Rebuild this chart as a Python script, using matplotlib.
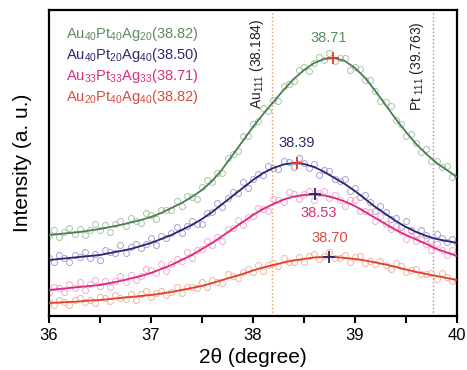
import numpy as np
import matplotlib
matplotlib.use('Agg')
import matplotlib.pyplot as plt
from matplotlib.ticker import MultipleLocator

plt.rcParams['font.family'] = ['Liberation Sans', 'DejaVu Sans']
plt.rcParams['mathtext.fontset'] = 'custom'
plt.rcParams['mathtext.rm'] = 'Liberation Sans'
plt.rcParams['mathtext.default'] = 'rm'

# fitted curves, sampled every 0.1 degree
x_fit = np.round(np.arange(36.0, 40.01, 0.1), 2)
green_fit = [81, 82, 83, 84, 85.5, 87, 89, 91, 93.5, 96, 99, 103, 108, 113, 119, 126, 135, 147, 161, 175, 189,
             202, 214, 226, 237, 246, 253, 257, 258, 255, 248, 238, 225, 211, 197, 184, 172, 162, 153, 146, 139]
blue_fit = [56, 57, 58, 59, 60, 61, 63, 65, 67, 70, 73, 77, 81, 86, 91, 97, 104, 112, 120, 128, 136,
            143, 148, 151.5, 153, 152, 149, 144, 138, 132, 125, 117, 109, 102, 95, 89, 84, 80, 77, 75, 73]
pink_fit = [26, 27, 28, 29, 30, 31, 33, 35, 37.5, 40, 43, 47, 51, 56, 61, 67, 73, 80, 87, 94, 101,
            107, 112, 116.5, 119.5, 121, 121.5, 120.5, 118, 114.5, 110, 104, 98, 92, 86, 81, 76.5, 72, 67, 63.5, 60]
red_fit = [13, 13.5, 14, 14.5, 15.5, 16, 17, 18, 19, 20, 21, 22.5, 24, 26, 28, 30, 33, 36, 39, 42, 45.5,
           48.5, 51, 53.5, 55.5, 57, 58.5, 59, 59, 58, 57, 55.5, 53.5, 51.5, 49, 46.5, 44, 42, 40, 38, 36]

# measured points, every 0.05 degree
x_pts = np.round(np.arange(36.0, 40.001, 0.05), 2)
green_pts = [81, 86, 79, 84, 88, 82, 87, 81, 86, 92, 86, 91, 84, 92, 95, 90, 98, 95, 93, 103,
             101, 97, 106, 106, 106, 115, 110, 120, 119, 117, 129, 136, 134, 143, 143, 158, 162, 165, 180, 180,
             192, 195, 208, 205, 216, 215, 230, 232, 235, 246, 249, 245, 253, 259, 256, 263, 255, 258, 258, 246,
             249, 247, 236, 236, 225, 215, 214, 210, 196, 192, 180, 182, 173, 164, 167, 155, 155, 149, 150, 139, 140]
blue_pts = [58, 54, 61, 58, 54, 61, 59, 64, 58, 62, 56, 66, 64, 63, 71, 63, 69, 72, 68, 72,
            78, 71, 80, 78, 83, 89, 83, 90, 95, 92, 92, 103, 104, 113, 109, 118, 124, 123, 134, 128,
            137, 142, 141, 150, 148, 147, 155, 154, 149, 158, 153, 148, 152, 141, 146, 145, 137, 135, 137, 125,
            128, 119, 121, 114, 105, 110, 104, 97, 98, 89, 95, 86, 82, 86, 81, 75, 82, 78, 74, 77, 73]
pink_pts = [24, 29, 28, 24, 32, 28, 34, 26, 32, 36, 30, 35, 29, 35, 40, 34, 41, 36, 40, 47,
            46, 43, 52, 45, 52, 57, 55, 64, 58, 66, 67, 75, 71, 79, 75, 87, 88, 96, 91, 99,
            100, 108, 107, 105, 117, 116, 114, 124, 122, 117, 122, 125, 116, 123, 125, 118, 121, 116, 110, 116,
            116, 105, 105, 104, 95, 100, 92, 87, 90, 85, 77, 85, 75, 77, 72, 66, 72, 66, 61, 66, 62]
red_pts = [14, 11, 16, 14, 11, 16, 18, 14, 16, 13, 19, 18, 15, 21, 18, 17, 22, 16, 22, 25,
           19, 23, 25, 21, 24, 29, 23, 29, 29, 28, 34, 29, 36, 34, 33, 42, 40, 38, 44, 47,
           44, 51, 45, 51, 53, 50, 58, 54, 54, 59, 54, 60, 62, 57, 60, 64, 58, 58, 61, 54,
           59, 60, 53, 55, 52, 55, 51, 47, 53, 50, 44, 46, 47, 42, 42, 43, 37, 43, 39, 35, 36]

legend_labels = ['Au$_{40}$Pt$_{40}$Ag$_{20}$(38.82)', 'Au$_{40}$Pt$_{20}$Ag$_{40}$(38.50)',
                 'Au$_{33}$Pt$_{33}$Ag$_{33}$(38.71)', 'Au$_{20}$Pt$_{40}$Ag$_{40}$(38.82)']
peak_x = [38.78, 38.43, 38.61, 38.75]
peak_y = [258, 153, 121.5, 59]
peak_labels = ['38.71', '38.39', '38.53', '38.70']
au_pos, pt_pos = 38.184, 39.763

line_colors = ['#4d7d52', '#2b2470', '#e0267f', '#e2402c']
pt_colors = ['#a6c6a8', '#a7a2d6', '#f4aacf', '#f3b4a0']
text_colors = ['#5b8c60', '#2e2a6e', '#d6307a', '#dc4a3a']
plus_colors = ['#e23a2a', '#e23a2a', '#2b2470', '#2b2470']

fig = plt.figure(figsize=(4.67, 3.70), dpi=100)
ax = fig.add_axes([0.105, 0.146, 0.8735, 0.827])

all_fit = [green_fit, blue_fit, pink_fit, red_fit]
all_pts = [green_pts, blue_pts, pink_pts, red_pts]
for i in range(4):
    ax.plot(x_pts, all_pts[i], 'o', mfc='none', mec=pt_colors[i], ms=4.3, mew=0.7, zorder=2)
    ax.plot(x_fit, all_fit[i], '-', color=line_colors[i], lw=1.3, zorder=3)
    ax.plot(peak_x[i], peak_y[i], '+', color=plus_colors[i], ms=8, mew=1.3, zorder=4)

# peak labels
ax.text(38.74, 278, peak_labels[0], color=text_colors[0], fontsize=10.5, ha='center', va='center')
ax.text(38.43, 173, peak_labels[1], color=text_colors[1], fontsize=10.5, ha='center', va='center')
ax.text(38.64, 103, peak_labels[2], color=text_colors[2], fontsize=10.5, ha='center', va='center')
ax.text(38.75, 78, peak_labels[3], color=text_colors[3], fontsize=10.5, ha='center', va='center')

# reference lines
ax.axvline(au_pos, color='#d9a066', ls=':', lw=1.0, zorder=1)
ax.axvline(pt_pos, color='#c58080', ls=':', lw=1.0, zorder=1)
ax.text(38.04, 252, 'Au$_{111}$ (38.184)', rotation=90, fontsize=10, ha='center', va='center', color='#222222')
ax.text(39.61, 250, 'Pt$_{\\ 111}$ (39.763)', rotation=90, fontsize=10, ha='center', va='center', color='#222222')

# legend
for i in range(4):
    ax.text(36.17, 282 - i * 21, legend_labels[i], color=text_colors[i], fontsize=10.5, ha='left', va='center')

ax.set_xlim(36, 40)
ax.set_ylim(0, 306)
ax.set_yticks([])
ax.xaxis.set_major_locator(MultipleLocator(1))
ax.xaxis.set_minor_locator(MultipleLocator(0.5))
ax.tick_params(axis='x', which='both', direction='out', length=5, width=1.5, labelsize=12, top=False)
for s in ax.spines.values():
    s.set_linewidth(1.6)
ax.set_xlabel('2θ (degree)', fontsize=15, labelpad=4)
ax.set_ylabel('Intensity (a. u.)', fontsize=15, labelpad=12)

fig.savefig('out.png', dpi=100)
